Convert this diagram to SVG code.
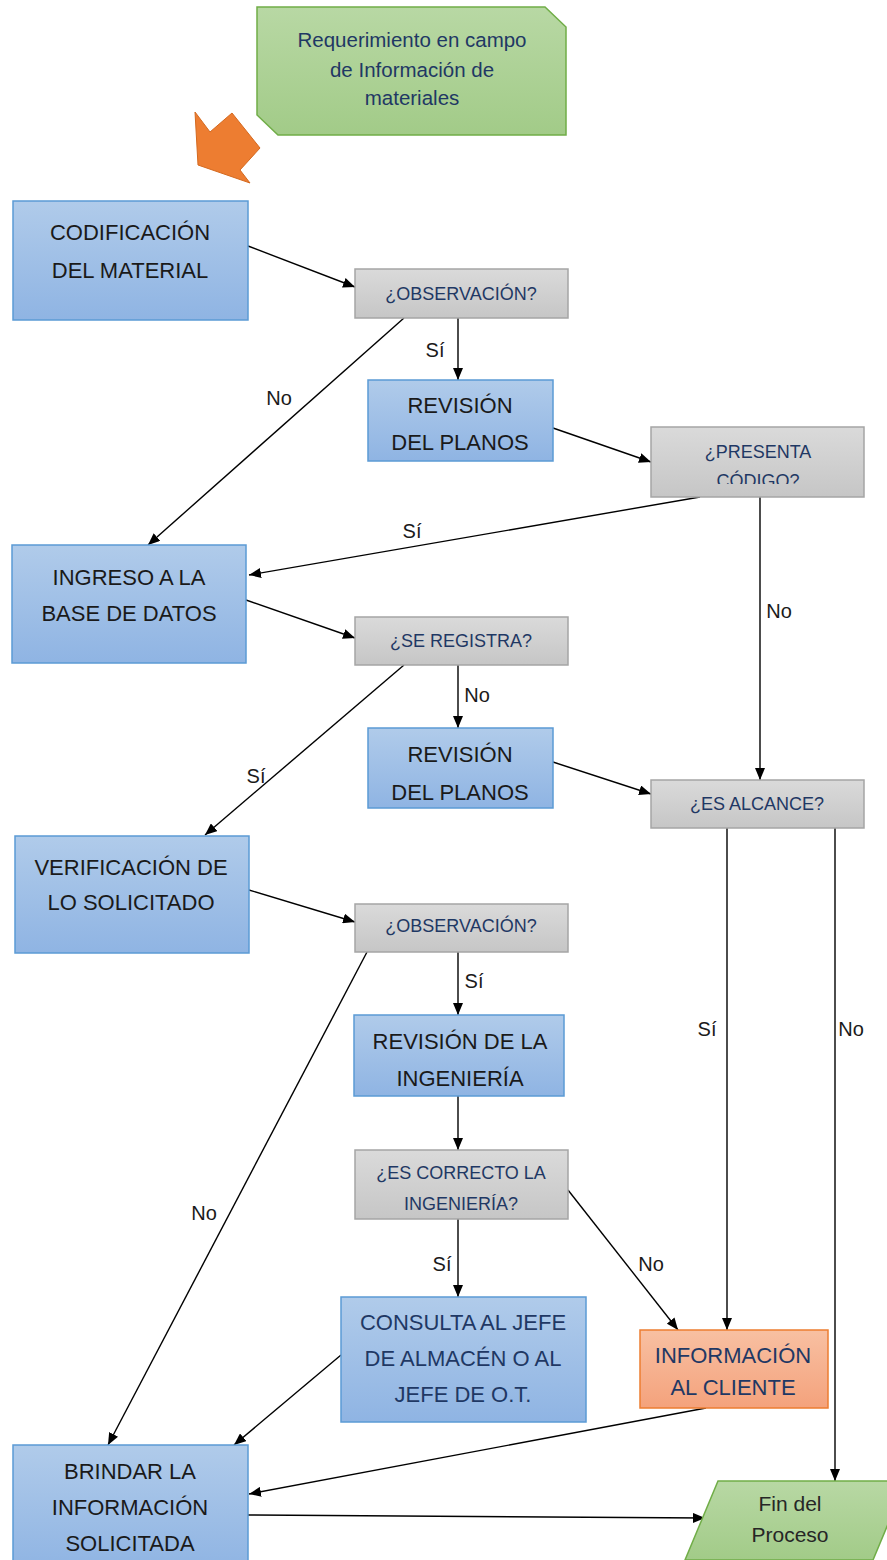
<svg xmlns="http://www.w3.org/2000/svg" width="887" height="1560" viewBox="0 0 887 1560">
<style>
.blue{fill:url(#gBlue);stroke:#5b9bd5;stroke-width:1.5}
.gray{fill:url(#gGray);stroke:#a5a5a5;stroke-width:1.5}
.green{fill:url(#gGreen);stroke:#70ad47;stroke-width:1.5}
.orange{fill:url(#gOrange);stroke:#ed7d31;stroke-width:1.5}
text{font-family:"Liberation Sans",Arial,sans-serif;text-anchor:middle}
.tb{font-size:22px;fill:#1a1a1a}
.tn{font-size:22px;fill:#1f3864}
.tq{font-size:18px;fill:#1f3864}
.tg{font-size:20.5px;fill:#1f3864}
.tf{font-size:21px;fill:#262626}
.lbl{font-size:20px;fill:#1a1a1a}
.ca{stroke:#000;stroke-width:1.4;fill:none;marker-end:url(#arr)}
</style>
<defs>
<linearGradient id="gBlue" x1="0" y1="0" x2="0" y2="1"><stop offset="0" stop-color="#b0cbea"/><stop offset="1" stop-color="#8fb4e3"/></linearGradient>
<linearGradient id="gGray" x1="0" y1="0" x2="0" y2="1"><stop offset="0" stop-color="#dadada"/><stop offset="1" stop-color="#c6c6c6"/></linearGradient>
<linearGradient id="gGreen" x1="0" y1="0" x2="0" y2="1"><stop offset="0" stop-color="#b8d8a4"/><stop offset="1" stop-color="#a2cb88"/></linearGradient>
<linearGradient id="gOrange" x1="0" y1="0" x2="0" y2="1"><stop offset="0" stop-color="#f8c0a2"/><stop offset="1" stop-color="#f4a27c"/></linearGradient>
<marker id="arr" viewBox="0 0 12 10" refX="12" refY="5" markerWidth="12" markerHeight="10" markerUnits="userSpaceOnUse" orient="auto"><path d="M0,0 L12,5 L0,10 Z" fill="#000"/></marker>
<clipPath id="clipPC"><rect x="651" y="427" width="213" height="57"/></clipPath>
</defs>

<g id="connectors">
<line class="ca" x1="248" y1="246" x2="355" y2="287"/>
<line class="ca" x1="404" y1="318" x2="148" y2="545"/>
<line class="ca" x1="458" y1="318" x2="458" y2="380"/>
<line class="ca" x1="553" y1="428" x2="651" y2="462"/>
<line class="ca" x1="700" y1="497" x2="249" y2="575"/>
<line class="ca" x1="760" y1="497" x2="760" y2="780"/>
<line class="ca" x1="246" y1="600" x2="355" y2="638"/>
<line class="ca" x1="404" y1="665" x2="205" y2="835"/>
<line class="ca" x1="458" y1="665" x2="458" y2="728"/>
<line class="ca" x1="553" y1="762" x2="651" y2="794"/>
<line class="ca" x1="727" y1="828" x2="727" y2="1330"/>
<line class="ca" x1="835" y1="828" x2="835" y2="1481"/>
<line class="ca" x1="249" y1="890" x2="355" y2="922"/>
<line class="ca" x1="367" y1="952" x2="108" y2="1445"/>
<line class="ca" x1="458" y1="952" x2="458" y2="1015"/>
<line class="ca" x1="458" y1="1096" x2="458" y2="1150"/>
<line class="ca" x1="458" y1="1219" x2="458" y2="1297"/>
<line class="ca" x1="568" y1="1190" x2="678" y2="1330"/>
<line class="ca" x1="341" y1="1355" x2="234" y2="1445"/>
<line class="ca" x1="706" y1="1408" x2="249" y2="1494"/>
<line class="ca" x1="248" y1="1515" x2="705" y2="1518"/>
<text class="lbl" x="279" y="405">No</text>
<text class="lbl" x="435" y="357">Sí</text>
<text class="lbl" x="412" y="538">Sí</text>
<text class="lbl" x="779" y="618">No</text>
<text class="lbl" x="256" y="783">Sí</text>
<text class="lbl" x="477" y="702">No</text>
<text class="lbl" x="707" y="1036">Sí</text>
<text class="lbl" x="851" y="1036">No</text>
<text class="lbl" x="204" y="1220">No</text>
<text class="lbl" x="474" y="988">Sí</text>
<text class="lbl" x="442" y="1271">Sí</text>
<text class="lbl" x="651" y="1271">No</text>
</g>

<g id="start">
<path class="green" d="M257,7 L545,7 L566,27 L566,135 L278,135 L257,115 Z"/>
<text class="tg" x="412" y="47">Requerimiento en campo</text>
<text class="tg" x="412" y="77">de Información de</text>
<text class="tg" x="412" y="105">materiales</text>
</g>

<g id="orangeArrow">
<path d="M195,112 L210,132 L232,113 L260,148 L240,170 L250,183 L198,165 Z" fill="#ed7d31" stroke="#d4691f" stroke-width="1"/>
</g>

<g id="codificacion">
<rect class="blue" x="13" y="201" width="235" height="119"/>
<text class="tb" x="130" y="240">CODIFICACIÓN</text>
<text class="tb" x="130" y="278">DEL MATERIAL</text>
</g>

<g id="observacion1">
<rect class="gray" x="355" y="269" width="213" height="49"/>
<text class="tq" x="461" y="300">¿OBSERVACIÓN?</text>
</g>

<g id="revision1">
<rect class="blue" x="368" y="380" width="185" height="81"/>
<text class="tb" x="460" y="413">REVISIÓN</text>
<text class="tb" x="460" y="450">DEL PLANOS</text>
</g>

<g id="presentaCodigo">
<rect class="gray" x="651" y="427" width="213" height="70"/>
<g clip-path="url(#clipPC)">
<text class="tq" x="758" y="458">¿PRESENTA</text>
<text class="tq" x="758" y="487">CÓDIGO?</text>
</g>
</g>

<g id="ingreso">
<rect class="blue" x="12" y="545" width="234" height="118"/>
<text class="tb" x="129" y="585">INGRESO A LA</text>
<text class="tb" x="129" y="621">BASE DE DATOS</text>
</g>

<g id="seRegistra">
<rect class="gray" x="355" y="617" width="213" height="48"/>
<text class="tq" x="461" y="647">¿SE REGISTRA?</text>
</g>

<g id="revision2">
<rect class="blue" x="368" y="728" width="185" height="80"/>
<text class="tb" x="460" y="762">REVISIÓN</text>
<text class="tb" x="460" y="800">DEL PLANOS</text>
</g>

<g id="esAlcance">
<rect class="gray" x="651" y="780" width="213" height="48"/>
<text class="tq" x="757" y="810">¿ES ALCANCE?</text>
</g>

<g id="verificacion">
<rect class="blue" x="15" y="836" width="234" height="117"/>
<text class="tb" x="131" y="875">VERIFICACIÓN DE</text>
<text class="tb" x="131" y="910">LO SOLICITADO</text>
</g>

<g id="observacion2">
<rect class="gray" x="355" y="904" width="213" height="48"/>
<text class="tq" x="461" y="932">¿OBSERVACIÓN?</text>
</g>

<g id="revisionIngenieria">
<rect class="blue" x="354" y="1015" width="210" height="81"/>
<text class="tb" x="460" y="1049">REVISIÓN DE LA</text>
<text class="tb" x="460" y="1086">INGENIERÍA</text>
</g>

<g id="esCorrecto">
<rect class="gray" x="355" y="1150" width="213" height="69"/>
<text class="tq" x="461" y="1179">¿ES CORRECTO LA</text>
<text class="tq" x="461" y="1210">INGENIERÍA?</text>
</g>

<g id="consulta">
<rect class="blue" x="341" y="1297" width="245" height="125"/>
<text class="tn" x="463" y="1330">CONSULTA AL JEFE</text>
<text class="tn" x="463" y="1366">DE ALMACÉN O AL</text>
<text class="tn" x="463" y="1402">JEFE DE O.T.</text>
</g>

<g id="infoCliente">
<rect class="orange" x="640" y="1330" width="188" height="78"/>
<text class="tn" x="733" y="1363">INFORMACIÓN</text>
<text class="tn" x="733" y="1395">AL CLIENTE</text>
</g>

<g id="brindar">
<rect class="blue" x="13" y="1445" width="235" height="125"/>
<text class="tb" x="130" y="1479">BRINDAR LA</text>
<text class="tb" x="130" y="1515">INFORMACIÓN</text>
<text class="tb" x="130" y="1551">SOLICITADA</text>
</g>

<g id="fin">
<path class="green" d="M718,1481 L906,1481 L873,1560 L685,1560 Z"/>
<text class="tf" x="790" y="1511">Fin del</text>
<text class="tf" x="790" y="1542">Proceso</text>
</g>
</svg>
